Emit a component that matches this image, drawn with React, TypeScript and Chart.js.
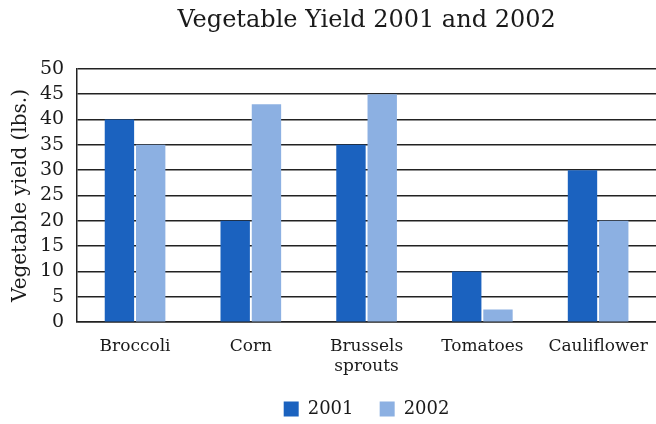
import React, { useEffect, useRef } from "react";
import { Chart, registerables } from "chart.js";

Chart.register(...registerables);

const categories: (string | string[])[] = ["Broccoli", "Corn", ["Brussels", "sprouts"], "Tomatoes", "Cauliflower"];
const yield2001 = [40, 20, 35, 10, 30];
const yield2002 = [35, 43, 45, 2.5, 20];
const seriesLabels = ["2001", "2002"];
const titleText = "Vegetable Yield 2001 and 2002";
const yAxisTitle = "Vegetable yield (lbs.)";

const FONT = "'DejaVu Serif', serif";
const TEXT = "#1a1a1a";

export default function App() {
  const ref = useRef<HTMLCanvasElement | null>(null);
  useEffect(() => {
    if (!ref.current) return;
    const chart = new Chart(ref.current, {
      type: "bar",
      data: {
        labels: categories,
        datasets: [
          { label: seriesLabels[0], data: yield2001, backgroundColor: "#1b62bf", borderWidth: 0 },
          { label: seriesLabels[1], data: yield2002, backgroundColor: "#8cb0e2", borderWidth: 0 },
        ],
      },
      options: {
        responsive: false,
        animation: false,
        layout: { padding: { left: 9, right: 0, top: 4, bottom: -4 } },
        datasets: { bar: { categoryPercentage: 0.54, barPercentage: 0.94 } },
        plugins: {
          title: {
            display: true,
            text: titleText,
            color: TEXT,
            font: { family: FONT, size: 24, weight: "normal" },
            padding: { top: 2, bottom: 34 },
            fullSize: false,
          },
          legend: {
            position: "bottom",
            fullSize: false,
            labels: {
              color: TEXT,
              font: { family: FONT, size: 18 },
              boxWidth: 15,
              boxHeight: 15,
              padding: 9,
              generateLabels: (c: any) => {
                const items = Chart.defaults.plugins.legend.labels.generateLabels(c);
                return items.map((it: any, i: number) =>
                  i < items.length - 1 ? { ...it, text: it.text + "   " } : it
                );
              },
            },
          },
          tooltip: { enabled: false },
        },
        scales: {
          x: {
            grid: { display: false, drawTicks: false },
            border: { display: true, color: "#222", width: 1.5 },
            ticks: { color: TEXT, font: { family: FONT, size: 17 }, padding: 14, maxRotation: 0, autoSkip: false },
            afterFit: (scale: any) => {
              scale.paddingRight = 0;
              scale.paddingLeft = 0;
            },
          },
          y: {
            min: 0,
            max: 50,
            ticks: { stepSize: 5, autoSkip: false, color: TEXT, font: { family: FONT, size: 19 }, padding: 13 },
            grid: { color: "#222", lineWidth: 1.5, drawTicks: false },
            border: { display: true, color: "#222", width: 1.5 },
            title: {
              display: true,
              text: yAxisTitle,
              color: TEXT,
              font: { family: FONT, size: 20 },
              padding: { top: 0, bottom: -6 },
            },
          },
        },
      },
    });
    return () => chart.destroy();
  }, []);
  return (
    <div style={{ position: "fixed", left: 0, top: 0, width: 656, height: 424, background: "#fff" }}>
      <canvas ref={ref} width={656} height={424} style={{ display: "block" }} />
    </div>
  );
}
